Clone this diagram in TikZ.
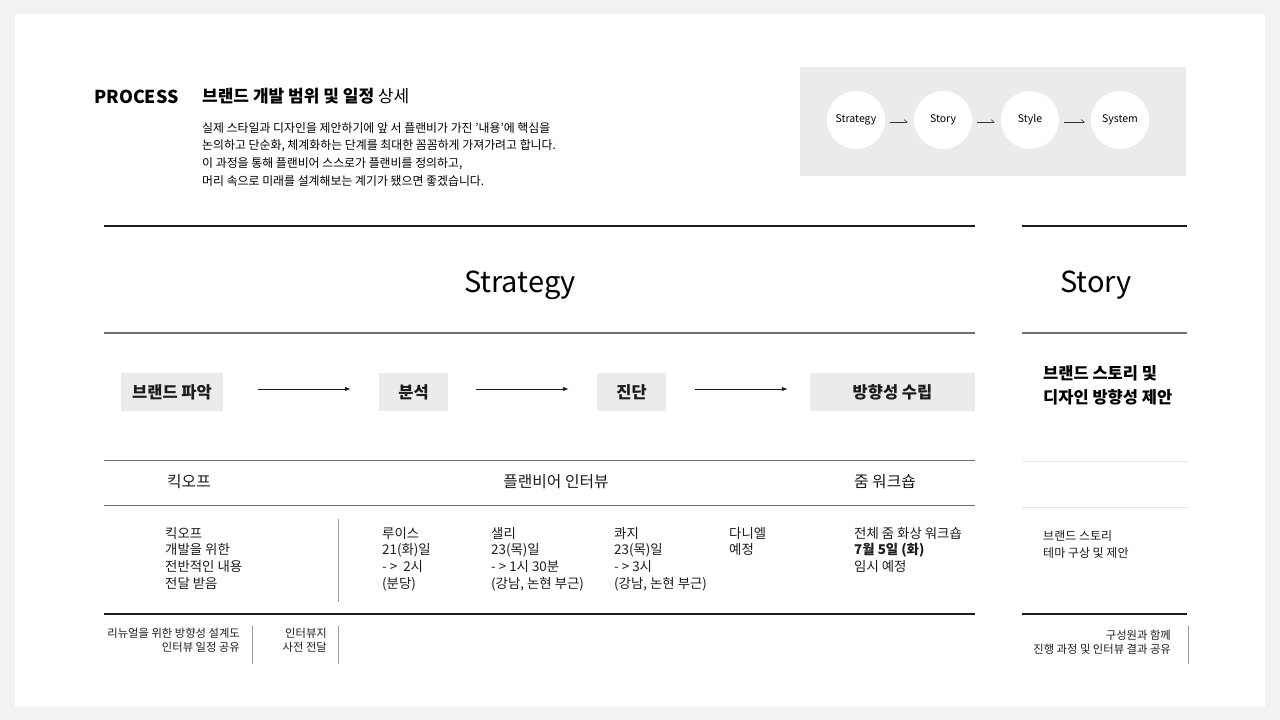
\documentclass[tikz,border=0pt]{standalone}
\usepackage{fontspec}
\setmainfont{Noto Sans CJK KR}
\usetikzlibrary{arrows.meta,positioning}

\definecolor{pageGray}{HTML}{F3F3F3}
\definecolor{boxGray}{HTML}{EBEBEB}
\definecolor{ruleGray}{HTML}{707070}
\definecolor{faintGray}{HTML}{E4E4E4}
\definecolor{inkBlack}{HTML}{1C1C1C}

\def\sizeBody{\fontsize{13.4}{16.7}\selectfont}
\def\sizeNote{\fontsize{11.3}{14}\selectfont}

\tikzset{
	stepbox/.style={fill=boxGray, minimum height=38pt, inner sep=0pt, text=inkBlack, font=\fontsize{16.5}{18}\selectfont\bfseries},
	steparrow/.style={-{Latex[length=6pt,width=4.5pt]}, line width=0.9pt, inkBlack},
	phase/.style={circle, fill=white, minimum size=58pt, inner sep=0pt, font=\fontsize{10.5}{12}\selectfont},
	phasearrow/.style={-{Straight Barb[left,length=3pt,width=5pt]}, line width=0.6pt, black!80},
	cell/.style={anchor=north west, inner sep=0pt, align=left, text=inkBlack, font=\sizeBody},
	note/.style={anchor=north east, inner sep=0pt, align=right, text=inkBlack, font=\sizeNote},
	heading/.style={font=\fontsize{15.8}{18}\selectfont, text=inkBlack},
}

\begin{document}
\begin{tikzpicture}[x=1pt, y=-1pt, line cap=butt]
		\useasboundingbox (0,0) rectangle (1280,720);
		\fill[pageGray] (0,0) rectangle (1280,720);
		\fill[white] (15,14) rectangle (1265,707);
		
		% header
		\node[anchor=west, inner sep=0pt, font=\fontsize{17.8}{20}\selectfont\bfseries] (process) at (94,96.5) {PROCESS};
		\node[anchor=west, inner sep=0pt, font=\fontsize{17}{20}\selectfont] (title) at (202,96.5) {\textbf{브랜드 개발 범위 및 일정} 상세};
		\node[anchor=north west, inner sep=0pt, align=left, font=\fontsize{11.9}{17.7}\selectfont] (intro) at (202,122) {실제 스타일과 디자인을 제안하기에 앞 서 플랜비가 가진 '내용'에 핵심을\\논의하고 단순화, 체계화하는 단계를 최대한 꼼꼼하게 가져가려고 합니다.\\이 과정을 통해 플랜비어 스스로가 플랜비를 정의하고,\\머리 속으로 미래를 설계해보는 계기가 됐으면 좋겠습니다.};
		
		% phases
		\fill[boxGray] (800,67) rectangle (1186,176);
		\node[phase] (pStrategy) at (856,120) {Strategy};
		\node[phase] (pStory) at (943,120) {Story};
		\node[phase] (pStyle) at (1030,120) {Style};
		\node[phase] (pSystem) at (1120,120) {System};
		\foreach \a/\b in {pStrategy/pStory, pStory/pStyle, pStyle/pSystem}
			\draw[phasearrow, shorten <=5pt, shorten >=6pt] ([yshift=-2pt]\a.east) -- ([yshift=-2pt]\b.west);
		
		% rules
		\draw[inkBlack, line width=1.2pt] (104,226) -- (975,226);
		\draw[inkBlack, line width=1.2pt] (1022,226) -- (1187,226);
		\draw[ruleGray, line width=1.2pt] (104,333) -- (975,333);
		\draw[ruleGray, line width=1.2pt] (1022,333) -- (1187,333);
		\draw[ruleGray, line width=1pt] (104,460) -- (975,460);
		\draw[faintGray, line width=1pt] (1022,461) -- (1187,461);
		\draw[ruleGray, line width=1pt] (104,505) -- (975,505);
		\draw[faintGray, line width=1pt] (1022,507) -- (1187,507);
		\draw[inkBlack, line width=1.2pt] (104,614) -- (975,614);
		\draw[inkBlack, line width=1.2pt] (1022,614) -- (1187,614);
		\draw[ruleGray!70, line width=0.8pt] (338,519) -- (338,602);
		\draw[ruleGray!70, line width=0.8pt] (252,626) -- (252,664);
		\draw[ruleGray!70, line width=0.8pt] (338,626) -- (338,664);
		\draw[ruleGray!70, line width=0.8pt] (1188,626) -- (1188,664);
		
		% titles
		\node[font=\fontsize{29}{34}\selectfont, inner sep=0pt] (strategy) at (520,285) {Strategy};
		\node[font=\fontsize{29}{34}\selectfont, inner sep=0pt] (story) at (1096,285) {Story};
		
		% steps
		\node[stepbox, minimum width=102pt] (brand) at (172,392) {브랜드 파악};
		\node[stepbox, minimum width=69pt] (analysis) at (413.5,392) {분석};
		\node[stepbox, minimum width=69pt] (diagnosis) at (631.5,392) {진단};
		\node[stepbox, minimum width=165pt] (direction) at (892.5,392) {방향성 수립};
		\draw[steparrow, shorten <=35pt, shorten >=28pt] ([yshift=3pt]brand.east) -- ([yshift=3pt]analysis.west);
		\draw[steparrow, shorten <=28pt, shorten >=28pt] ([yshift=3pt]analysis.east) -- ([yshift=3pt]diagnosis.west);
		\draw[steparrow, shorten <=29pt, shorten >=22pt] ([yshift=3pt]diagnosis.east) -- ([yshift=3pt]direction.west);
		\node[anchor=north west, inner sep=0pt, align=left, font=\fontsize{16.5}{24}\selectfont\bfseries] (storyPlan) at (1043,365) {브랜드 스토리 및\\디자인 방향성 제안};
		
		% schedule headings
		\node[heading] (kickoff) at (189,482) {킥오프};
		\node[heading] (interview) at (556,482) {플랜비어 인터뷰};
		\node[heading] (workshop) at (885,482) {줌 워크숍};
		
		% schedule details
		\node[cell] (kickoffText) at (165,527) {킥오프\\개발을 위한\\전반적인 내용\\전달 받음};
		\node[cell] (louis) at (382,527) {루이스\\21(화)일\\- >\ \ 2시\\(분당)};
		\node[cell] (sally) at (491,527) {샐리\\23(목)일\\- > 1시 30분\\(강남, 논현 부근)};
		\node[cell] (kwaji) at (614,527) {콰지\\23(목)일\\- > 3시\\(강남, 논현 부근)};
		\node[cell] (daniel) at (729,527) {다니엘\\예정};
		\node[cell] (zoomText) at (854,527) {전체 줌 화상 워크숍\\\textbf{7월 5일 (화)}\\임시 예정};
		\node[cell, font=\fontsize{12}{17}\selectfont] (storyText) at (1043,530) {브랜드 스토리\\테마 구상 및 제안};
		
		% notes
		\node[note] (renewal) at (240,628) {리뉴얼을 위한 방향성 설계도\\인터뷰 일정 공유};
		\node[note] (sheet) at (327,628) {인터뷰지\\사전 전달};
		\node[note] (share) at (1171,630) {구성원과 함께\\진행 과정 및 인터뷰 결과 공유};
\end{tikzpicture}
\end{document}
